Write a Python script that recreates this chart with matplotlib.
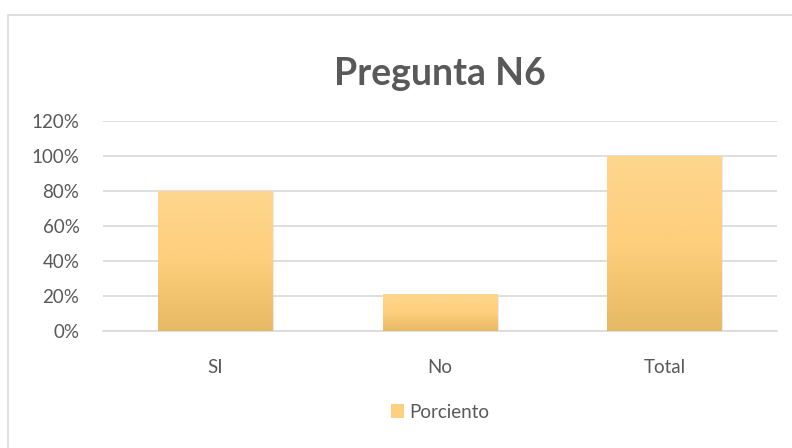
import numpy as np
import matplotlib.pyplot as plt
from matplotlib.colors import LinearSegmentedColormap
from matplotlib.patches import Rectangle, Patch

categories = ["SI", "No", "Total"]
porciento = [0.80, 0.21, 1.00]
y_ticks = [0, 0.2, 0.4, 0.6, 0.8, 1.0, 1.2]
y_labels = ["0%", "20%", "40%", "60%", "80%", "100%", "120%"]

plt.rcParams['font.family'] = ['Lato', 'DejaVu Sans']
gray = "#595959"

fig = plt.figure(figsize=(7.92, 4.48), dpi=100)
fig.patches.append(Rectangle((8 / 792, -0.1), 1.2, (448 - 15) / 448 + 0.1,
                             transform=fig.transFigure, fill=False,
                             edgecolor="#d9d9d9", linewidth=1.2))

ax = fig.add_axes([103 / 792, 1 - 331 / 448, 674 / 792, 210 / 448])
x = np.arange(len(categories))
bars = ax.bar(x, porciento, width=0.51, color="none", zorder=3)

# vertical gradient inside each bar, plus a faint shadow
grad = LinearSegmentedColormap.from_list("g", ["#e6b964", "#fecf7c", "#fed68e"])
for b in bars:
    x0, w, h = b.get_x(), b.get_width(), b.get_height()
    ax.add_patch(Rectangle((x0 + 0.006, -0.008), w, h, facecolor="#c8c8c8",
                           edgecolor="none", alpha=0.35, zorder=2))
    img = ax.imshow(np.linspace(0, 1, 256).reshape(-1, 1), cmap=grad,
                    extent=[x0, x0 + w, 0, h], origin="lower", aspect="auto",
                    zorder=3)
    img.set_clip_path(b)

ax.set_xlim(-0.5, len(categories) - 0.5)
ax.set_ylim(0, 1.2)
ax.set_yticks(y_ticks)
ax.set_yticklabels(y_labels)
ax.set_xticks(x)
ax.set_xticklabels(categories)
ax.grid(axis="y", color="#d9d9d9", linewidth=1.2, zorder=0)
ax.set_axisbelow(True)
for s in ["top", "right", "left"]:
    ax.spines[s].set_visible(False)
ax.spines["bottom"].set_color("#d9d9d9")
ax.spines["bottom"].set_linewidth(1.2)
ax.tick_params(axis="both", length=0, colors=gray, labelsize=13.5)
ax.tick_params(axis="y", pad=17)
ax.tick_params(axis="x", pad=20)

ax.set_title("Pregunta N6", fontsize=27, fontweight="bold", color=gray, pad=26)

ax.legend(handles=[Patch(facecolor="#fcd080", label="Porciento")],
          loc="upper center", bbox_to_anchor=(0.5, -0.265), frameon=False,
          fontsize=13.5, labelcolor=gray, handlelength=0.7, handleheight=0.7,
          handletextpad=0.3)

fig.savefig("out.png", dpi=100)
